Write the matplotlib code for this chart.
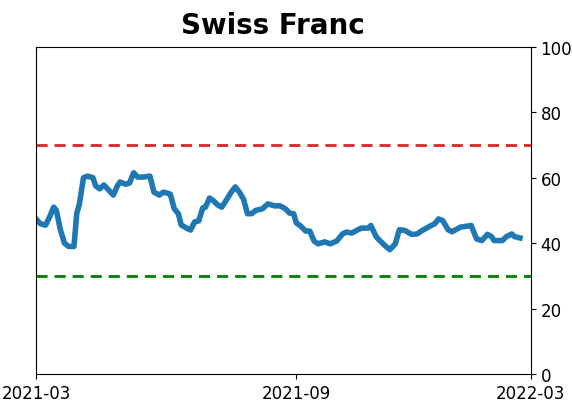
import numpy as np
import pandas as pd
import matplotlib
matplotlib.use("Agg")
import matplotlib.pyplot as plt
import matplotlib.dates as mdates

#%% data
dates = ["2021-03-01", "2021-03-04", "2021-03-08", "2021-03-11", "2021-03-14", "2021-03-16",
         "2021-03-19", "2021-03-22", "2021-03-25", "2021-03-29", "2021-03-31", "2021-04-02",
         "2021-04-05", "2021-04-08", "2021-04-12", "2021-04-14", "2021-04-17", "2021-04-20",
         "2021-04-23", "2021-04-27", "2021-04-30", "2021-05-02", "2021-05-06", "2021-05-09",
         "2021-05-12", "2021-05-15", "2021-05-19", "2021-05-24", "2021-05-27", "2021-05-31",
         "2021-06-03", "2021-06-08", "2021-06-11", "2021-06-14", "2021-06-16", "2021-06-20",
         "2021-06-23", "2021-06-26", "2021-06-29", "2021-07-02", "2021-07-04", "2021-07-07",
         "2021-07-10", "2021-07-13", "2021-07-16", "2021-07-19", "2021-07-23", "2021-07-26",
         "2021-07-29", "2021-08-01", "2021-08-04", "2021-08-07", "2021-08-10", "2021-08-15",
         "2021-08-19", "2021-08-24", "2021-08-28", "2021-09-01", "2021-09-04", "2021-09-07",
         "2021-09-09", "2021-09-12", "2021-09-16", "2021-09-19", "2021-09-22", "2021-09-25",
         "2021-09-30", "2021-10-04", "2021-10-09", "2021-10-13", "2021-10-16", "2021-10-20",
         "2021-10-24", "2021-10-27", "2021-11-01", "2021-11-03", "2021-11-07", "2021-11-13",
         "2021-11-17", "2021-11-21", "2021-11-24", "2021-11-28", "2021-12-03", "2021-12-07",
         "2021-12-11", "2021-12-17", "2021-12-20", "2021-12-23", "2021-12-26", "2021-12-30",
         "2022-01-02", "2022-01-08", "2022-01-13", "2022-01-16", "2022-01-20", "2022-01-24",
         "2022-01-28", "2022-01-31", "2022-02-02", "2022-02-08", "2022-02-11", "2022-02-15",
         "2022-02-17", "2022-02-21"]
values = [47.4, 46.0, 45.5, 48.0, 51.0, 50.0,
          44.0, 40.0, 39.0, 39.0, 49.0, 52.0,
          60.0, 60.5, 60.0, 57.5, 56.6, 57.8,
          56.5, 54.7, 57.5, 58.7, 58.0, 58.4,
          61.5, 60.2, 60.2, 60.5, 55.6, 54.7,
          55.6, 55.0, 50.5, 49.0, 45.6, 44.6,
          44.0, 46.5, 46.8, 50.8, 51.0, 53.8,
          52.9, 51.7, 51.0, 52.9, 55.6, 57.2,
          55.6, 53.5, 49.0, 49.0, 50.0, 50.5,
          52.0, 51.4, 51.4, 50.5, 49.2, 49.0,
          46.2, 45.3, 43.7, 43.7, 40.7, 39.8,
          40.4, 39.8, 40.7, 42.8, 43.4, 43.1,
          44.0, 44.6, 44.6, 45.4, 41.9, 39.4,
          38.0, 39.8, 44.1, 43.9, 42.7, 42.8,
          43.9, 45.3, 45.9, 47.4, 46.9, 44.1,
          43.5, 44.9, 45.2, 45.4, 41.3, 40.8,
          42.7, 42.0, 40.8, 40.8, 42.0, 42.8,
          42.0, 41.6]
x_ticks = ["2021-03-01", "2021-09-09", "2022-03-01"]
upper_line = 70
lower_line = 30

#%% plotting
fig = plt.figure(figsize=(5.72, 4.02), dpi=100)
ax = fig.add_axes([0.063, 0.067, 0.865, 0.814])

ax.plot(pd.to_datetime(dates), values, color="#1f77b4", linewidth=4)
ax.axhline(upper_line, color="#d62728", linestyle="--", linewidth=2, dashes=(4, 2.5))
ax.axhline(lower_line, color="green", linestyle="--", linewidth=2, dashes=(4, 2.5))

ax.set_xlim(pd.Timestamp(x_ticks[0]), pd.Timestamp(x_ticks[-1]))
ax.set_ylim(0, 100)
ax.set_xticks(pd.to_datetime(x_ticks))
ax.xaxis.set_major_formatter(mdates.DateFormatter("%Y-%m"))
ax.yaxis.tick_right()
ax.tick_params(labelsize=12)
ax.set_title("Swiss Franc", fontsize=20, fontweight="bold", pad=10, x=0.478)

fig.savefig("out.png", dpi=100)
